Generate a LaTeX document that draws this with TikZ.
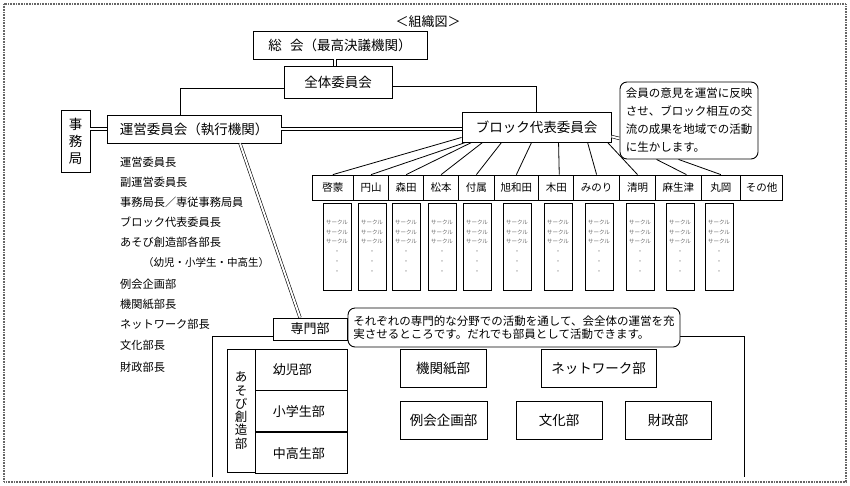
\documentclass[tikz,border=0pt]{standalone}
\usepackage{fontspec}
\setmainfont{Noto Sans CJK JP}
\usetikzlibrary{calc}
\newcommand\myfs[2]{\fontsize{#1}{#2}\selectfont}
\begin{document}
\begin{tikzpicture}[x=1pt,y=-1pt,
  bx/.style={draw, line width=0.9pt, inner sep=0pt, fill=white, font=\myfs{13.5}{15}},
  dbl/.style={draw, double, double distance=2pt, line width=0.6pt},
  ln/.style={draw, line width=0.8pt},
  cellbox/.style={draw, line width=0.8pt, minimum height=25pt, inner sep=0pt, font=\myfs{10.5}{12}},
  circbox/.style={draw, line width=0.8pt, minimum width=28pt, minimum height=87pt, inner sep=0pt, align=center, font=\myfs{5.5}{9.8}, text=black!60},
  memo/.style={draw, line width=0.9pt, rounded corners=7pt, fill=white, align=left, inner sep=0pt},
  listitem/.style={anchor=west, font=\myfs{11.2}{13}, inner sep=0pt},
  subcell/.style={draw, line width=0.9pt, fill=white, minimum height=41pt, text width=58pt, inner xsep=17pt, inner ysep=0pt, align=left, font=\myfs{13}{15}}
]
\useasboundingbox (0,0) rectangle (850,485);
\draw[black!60, line width=1.6pt, dash pattern=on 0.8pt off 0.8pt] (4,4) rectangle (846,482);

% title
\node[font=\myfs{13}{15}, inner sep=0pt] (title) at (428,22) {＜組織図＞};

% main boxes
\node[bx, minimum width=174pt, minimum height=28pt] (sokai) at (340,45) {総\hspace{0.6em}会（最高決議機関）};
\node[bx, minimum width=108pt, minimum height=32pt] (zentai) at (338,82) {全体委員会};
\node[bx, minimum width=29pt, minimum height=62pt, align=center, font=\myfs{13.5}{17}] (jimu) at (75.5,141) {事\\務\\局};
\node[bx, minimum width=174pt, minimum height=28pt] (unei) at (194,129) {運営委員会（執行機関）};
\node[bx, minimum width=149pt, minimum height=30pt] (blk) at (536.5,127) {ブロック代表委員会};
\node[memo, minimum width=138pt, minimum height=77pt, font=\myfs{11.5}{18}] (memo1) at (689,120.5)
  {会員の意見を運営に反映\\させ、ブロック相互の交\\流の成果を地域での活動\\に生かします。};

% left list
\node[listitem] (l1) at (120,162) {運営委員長};
\node[listitem] (l2) at (120,182) {副運営委員長};
\node[listitem] (l3) at (120,202) {事務局長／専従事務局員};
\node[listitem] (l4) at (120,222) {ブロック代表委員長};
\node[listitem] (l5) at (120,242) {あそび創造部各部長};
\node[listitem, font=\myfs{10.5}{13}] (l6) at (143,263) {（幼児・小学生・中高生）};
\node[listitem] (l7) at (120,284) {例会企画部};
\node[listitem] (l8) at (120,304) {機関紙部長};
\node[listitem] (l9) at (120,324) {ネットワーク部長};
\node[listitem] (l10) at (120,345) {文化部長};
\node[listitem] (l11) at (120,367) {財政部長};

% block row
\foreach \i/\a/\b/\t in {1/312.3/353.4/啓蒙, 2/353.4/388.8/円山, 3/388.8/423.6/森田, 4/423.6/458.7/松本,
  5/458.7/494.1/付属, 6/494.1/538.7/旭和田, 7/538.7/573.8/木田, 8/573.8/619.4/みのり,
  9/619.4/655.6/清明, 10/655.6/701.2/麻生津, 11/701.2/740.5/丸岡, 12/740.5/782.6/その他}
  \node[cellbox, minimum width={(\b-\a)*1pt}] (c\i) at ({(\a+\b)/2},187.5) {\t};

% circle columns
\foreach \i/\a in {1/323, 2/358, 3/392, 4/428, 5/463, 6/503, 7/544, 8/585, 9/626, 10/666, 11/705}
  \node[circbox] (k\i) at ({\a+14},246.5) {サークル\\サークル\\サークル\\・\\・\\・};

% connectors top part
\coordinate (zs) at ($(zentai.north)+(-3,0)$);
\draw[dbl] (zs) -- (zs |- sokai.south);
\draw[ln] ($(zentai.west)+(0,6)$) -| ($(unei.north west)+(74,0)$);
\draw[ln] ($(zentai.east)+(0,4)$) -| (blk.north);
\draw[dbl] (jimu.east |- unei.west) -- (unei.west);
\draw[dbl] (unei.east) -- (unei.east -| blk.west);
\draw[dbl] ($(blk.south east)+(0,-6)$) -- ($(memo1.west)+(0,18)$);

% block lines
\draw[ln] ($(blk.south west)+(0,-5)$) -- (c1.north);
\foreach \i/\o in {2/4, 3/10, 4/21, 5/40, 6/70, 8/126, 9/146}
  \draw[ln] ($(blk.south west)+(\o,0)$) -- (c\i.north);
\draw[ln] ($(blk.south west)+(97,0)$) -- ($(c7.north)+(3,0)$);
\draw[ln] ($(memo1.south west)+(37,0)$) -- ($(c10.north)+(8,0)$);
\draw[ln] ($(memo1.south west)+(59,0)$) -- (c11.north);

% specialist area container
\draw[ln] (212,477) -- (212,336) -- (744,336) -- (744,477);
\node[bx, minimum width=74pt, minimum height=22pt, font=\myfs{13}{15}] (senmon) at (310,329) {専門部};
\node[memo, minimum width=332pt, minimum height=39pt, font=\myfs{11.5}{13}] (memo2) at (514,327.5)
  {それぞれの専門的な分野での活動を通して、会全体の運営を充\\実させるところです。だれでも部員として活動できます。};
\draw[dbl] ($(unei.south)+(46,0)$) -- ($(senmon.north)+(-10,0)$);

% asobi block
\node[bx, minimum width=28pt, minimum height=123pt, align=center, font=\myfs{12.5}{13.3}] (asobi) at (241,410.5) {あ\\そ\\び\\創\\造\\部};
\node[subcell, anchor=north west] (yoji) at (asobi.north east) {幼児部};
\node[subcell, anchor=north west] (shogaku) at (yoji.south west) {小学生部};
\node[subcell, anchor=north west] (chuko) at (shogaku.south west) {中高生部};

% other departments
\node[bx, minimum width=86pt, minimum height=38pt] (kikanshi) at (443,368) {機関紙部};
\node[bx, minimum width=115pt, minimum height=38pt] (network) at (598.5,368) {ネットワーク部};
\node[bx, minimum width=87pt, minimum height=38pt] (reikai) at (443.5,420) {例会企画部};
\node[bx, minimum width=86pt, minimum height=38pt] (bunka) at (559,420) {文化部};
\node[bx, minimum width=86pt, minimum height=38pt] (zaisei) at (668,420) {財政部};
\end{tikzpicture}
\end{document}
